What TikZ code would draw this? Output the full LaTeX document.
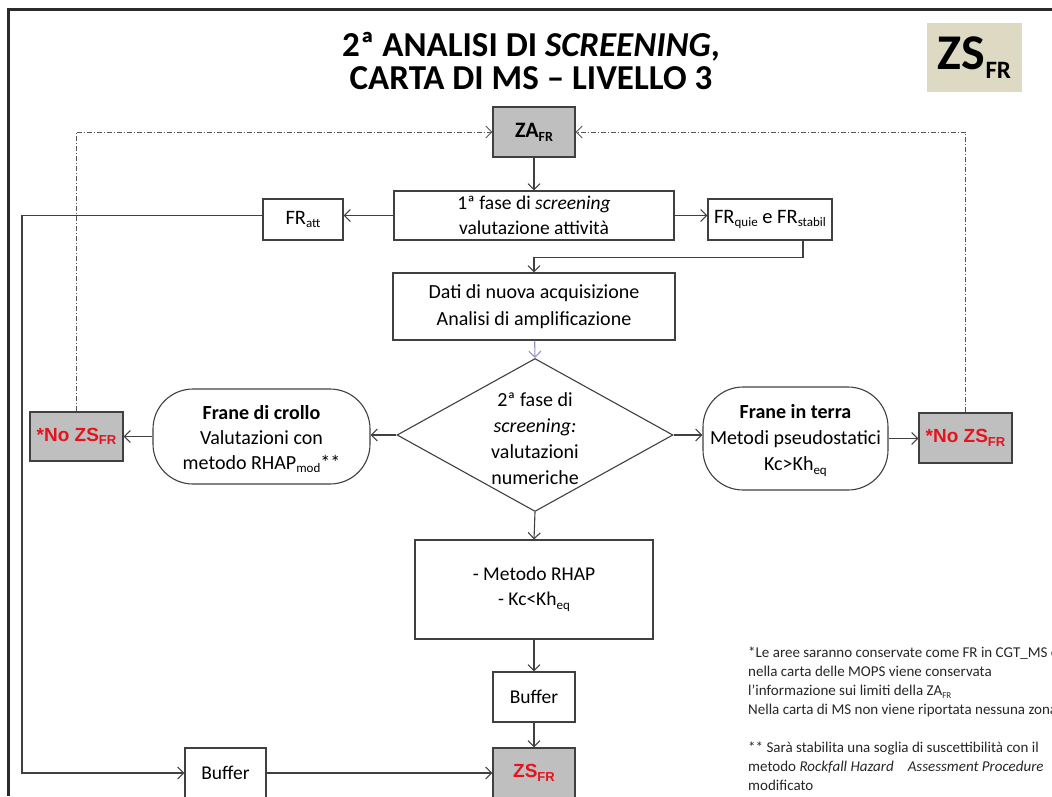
\documentclass[tikz,border=0pt]{standalone}
\usepackage{fontspec}
\setmainfont{Carlito}
\newfontfamily\arialfont{Liberation Sans}
\usetikzlibrary{arrows.meta,shapes.geometric,calc}

\definecolor{linecol}{HTML}{404040}
\definecolor{boxgray}{HTML}{BFBFBF}
\definecolor{alertred}{HTML}{E3141E}
\definecolor{badgetan}{HTML}{DDD9C3}
\definecolor{violetline}{HTML}{9C8FC4}
\definecolor{framecol}{HTML}{2B2B2B}
\definecolor{ddcol}{HTML}{555555}

% red bold label with a lowered "FR"
\newcommand\redzs[1]{{\arialfont\bfseries\color{alertred}#1ZS\raisebox{-3.5pt}{\fontsize{13}{13}\selectfont FR}}}
% small lowered index inside box texts
\newcommand\idx[1]{\raisebox{-3.5pt}{\fontsize{13}{13}\selectfont #1}}

\begin{document}
\begin{tikzpicture}[x=1pt,y=-1pt,
  box/.style={draw=linecol, line width=1.1pt, fill=white, inner sep=0pt,
    align=center, font=\fontsize{19.5}{25}\selectfont},
  graybox/.style={box, fill=boxgray},
  roundbox/.style={box, rounded corners=40pt},
  arr/.style={draw=linecol, line width=1.1pt,
    -{Straight Barb[length=6pt,width=12pt]}},
  ddline/.style={draw=ddcol, line width=0.9pt,
    dash pattern=on 5pt off 2pt on 1pt off 2pt,
    -{Straight Barb[length=6pt,width=12pt]}},
]
\useasboundingbox (0,0) rectangle (1052,796);
\clip (0,0) rectangle (1052,796);

% slide frame
\draw[framecol, line width=3pt] (8,796) -- (8,9) -- (1052,9);

% title and badge
\node[align=center, font=\fontsize{35}{33}\selectfont\bfseries] (title) at (531,61)
  {2ª ANALISI DI \textit{SCREENING},\\CARTA DI MS – LIVELLO 3};
\node[fill=badgetan, minimum width=95pt, minimum height=69pt, inner sep=0pt] (badge) at (974.5,57.5)
  {\bfseries\fontsize{50}{50}\selectfont ZS\raisebox{-9pt}{\fontsize{25}{25}\selectfont FR}};

% flow nodes
\node[graybox, minimum width=82pt, minimum height=50pt] (zafr) at (534,132)
  {\bfseries\fontsize{22}{22}\selectfont ZA\raisebox{-4pt}{\fontsize{14}{14}\selectfont FR}};
\node[box, minimum width=280pt, minimum height=49pt] (fase1) at (534,215.5)
  {1ª fase di \textit{screening}\\valutazione attività};
\node[box, minimum width=80pt, minimum height=41pt, font=\fontsize{20.5}{25}\selectfont] (fratt) at (303,219.5)
  {FR\idx{att}};
\node[box, minimum width=124pt, minimum height=41pt, font=\fontsize{20.5}{25}\selectfont] (frquie) at (770,219.5)
  {FR\idx{quie} e FR\idx{stabil}};
\node[box, minimum width=282pt, minimum height=67pt, font=\fontsize{20}{27}\selectfont] (dati) at (534,306.5)
  {Dati di nuova acquisizione\\Analisi di amplificazione};

\node[diamond, draw=linecol, line width=1.1pt, fill=white, inner sep=0pt,
  minimum width=276pt, minimum height=153pt] (dia) at (535,435) {};
\node[align=center, font=\fontsize{20}{26}\selectfont] (diatext) at ([yshift=-4pt]dia.center)
  {2ª fase di\\\textit{screening:}\\valutazioni\\numeriche};

\node[roundbox, minimum width=217pt, minimum height=95pt, font=\fontsize{20}{25}\selectfont] (crollo) at (261.5,436.5)
  {\rule{0pt}{19pt}\textbf{Frane di crollo}\\Valutazioni con\\metodo RHAP\idx{mod}**};
\node[roundbox, minimum width=185pt, minimum height=103pt, font=\fontsize{20}{26}\selectfont] (terra) at (795.5,438.5)
  {\rule{0pt}{18pt}\textbf{Frane in terra}\\Metodi pseudostatici\\Kc>Kh\idx{eq}};

\node[graybox, minimum width=93pt, minimum height=49pt] (nozsL) at (76.5,436.5)
  {\fontsize{19}{19}\selectfont\redzs{*No }};
\node[graybox, minimum width=93pt, minimum height=50pt] (nozsR) at (965.5,438)
  {\fontsize{19}{19}\selectfont\redzs{*No }};

\node[box, minimum width=238pt, minimum height=99pt] (rhap) at (534,589.5)
  {- Metodo RHAP\\- Kc<Kh\idx{eq}};
\node[box, minimum width=82pt, minimum height=50pt] (buf1) at (534,697) {Buffer};
\node[graybox, minimum width=82pt, minimum height=50pt] (zsfr) at (534,773)
  {\fontsize{19}{19}\selectfont\redzs{}};
\node[box, minimum width=81pt, minimum height=50pt] (buf2) at (225.5,773) {Buffer};

\coordinate (lft) at (22,0);

% connectors
\draw[ddline] (nozsL.north) |- (zafr.west);
\draw[ddline] (nozsR.north) |- (zafr.east);
\draw[arr] (zafr) -- (fase1);
\draw[arr] (fase1.west) -- (fase1.west -| fratt.east);
\draw[arr] (fase1.east) -- (fase1.east -| frquie.west);
\draw[arr] ([xshift=33pt]frquie.south) |- ([yshift=15pt]dati.north) -- (dati.north);
\draw[arr, draw=violetline] (dati) -- (dia.north);
\draw[arr] (dia.west) -- (dia.west -| crollo.east);
\draw[arr] (crollo.west) -- (crollo.west -| nozsL.east);
\draw[arr] (dia.east) -- (dia.east -| terra.west);
\draw[arr] (terra.east) -- (terra.east -| nozsR.west);
\draw[arr] (dia.south) -- (rhap.north);
\draw[arr] (rhap) -- (buf1);
\draw[arr] (buf1) -- (zsfr);
\draw[arr] (fase1.west -| fratt.west) -- (fase1.west -| lft) |- (buf2.west);
\draw[arr] (buf2.east) -- (zsfr.west);

% footnotes
\node[anchor=north west, align=left, inner sep=0pt, font=\fontsize{15}{19}\selectfont, text=black!85] (notes) at (748,647)
  {*Le aree saranno conservate come FR in CGT\_MS e\\
   nella carta delle MOPS viene conservata\\
   l’informazione sui limiti della ZA\raisebox{-2.5pt}{\fontsize{9}{9}\selectfont FR}\\
   Nella carta di MS non viene riportata nessuna zona\\[19pt]
   ** Sarà stabilita una soglia di suscettibilità con il\\
   metodo \textit{Rockfall Hazard\hspace{14pt}Assessment Procedure}\\
   modificato};
\end{tikzpicture}
\end{document}
